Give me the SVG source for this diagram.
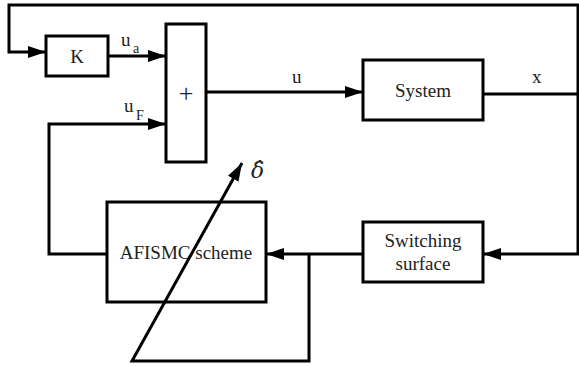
<svg xmlns="http://www.w3.org/2000/svg" width="579" height="366" viewBox="0 0 579 366">
<style>
.box{fill:#fff;stroke:#000;stroke-width:3}
.ln{fill:none;stroke:#000;stroke-width:3}
text{font-family:"Liberation Serif","Times New Roman",serif;fill:#222;font-size:19px}
.c{text-anchor:middle}
.sub{font-size:14px}
.plus{font-size:26px}
.delta{font-family:"DejaVu Serif",serif;font-style:italic;font-size:22px}
</style>
<defs>
<marker id="ar" viewBox="0 0 18 12" refX="18" refY="6" markerWidth="18" markerHeight="12" markerUnits="userSpaceOnUse" orient="auto">
<path d="M0,0 L18,6 L0,12 Z" fill="#000"/>
</marker>
</defs>
<rect width="579" height="366" fill="#fff"/>
<g id="K">
<rect class="box" x="46" y="36" width="62" height="40"/>
<text class="c" x="77" y="63">K</text>
</g>
<g id="sum">
<rect class="box" x="166" y="24" width="40" height="138"/>
<text class="c plus" x="186" y="102">+</text>
</g>
<g id="system">
<rect class="box" x="363" y="60" width="120" height="60"/>
<text class="c" x="423" y="97">System</text>
</g>
<g id="switching">
<rect class="box" x="363" y="222" width="120" height="60"/>
<text class="c" x="423" y="247">Switching</text>
<text class="c" x="423" y="270">surface</text>
</g>
<g id="afismc">
<rect class="box" x="107" y="202" width="159" height="100"/>
<text class="c" x="186" y="259">AFISMC scheme</text>
</g>
<g id="connectors">
<path class="ln" d="M483,94 H578 V5 H9 V52 H46" marker-end="url(#ar)"/>
<path class="ln" d="M108,56 H166" marker-end="url(#ar)"/>
<path class="ln" d="M107,254 H49 V124 H166" marker-end="url(#ar)"/>
<path class="ln" d="M206,92 H363" marker-end="url(#ar)"/>
<path class="ln" d="M578,94 V254 H483" marker-end="url(#ar)"/>
<path class="ln" d="M363,254 H266" marker-end="url(#ar)"/>
<path class="ln" d="M309,254 V361 H132 L242,163" marker-end="url(#ar)"/>
<text x="121" y="46">u<tspan class="sub" x="133" y="53">a</tspan></text>
<text x="124" y="112">u<tspan class="sub" x="136" y="120">F</tspan></text>
<text x="292" y="83">u</text>
<text x="532" y="83">x</text>
<text class="delta" x="251" y="178">δ̂</text>
</g>
</svg>
